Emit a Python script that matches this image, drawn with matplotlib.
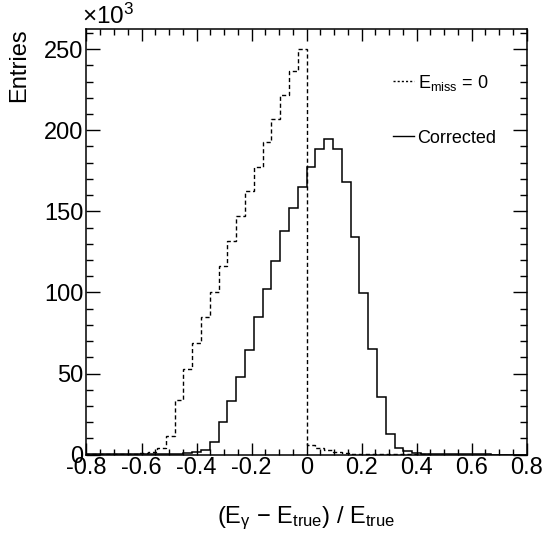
import numpy as np
import matplotlib
matplotlib.use("Agg")
import matplotlib.pyplot as plt
from matplotlib.ticker import MultipleLocator
from matplotlib.lines import Line2D

plt.rcParams['font.family'] = ['Liberation Sans', 'DejaVu Sans']
plt.rcParams['mathtext.fontset'] = 'custom'
plt.rcParams['mathtext.rm'] = 'Liberation Sans'
plt.rcParams['mathtext.it'] = 'Liberation Sans'

# 50 bins from -0.8 to 0.8, counts in units of 10^3
bin_edges = np.linspace(-0.8, 0.8, 51)

emiss0_k = [0.1, 0.1, 0.2, 0.2, 0.3, 0.5, 0.8, 1.6, 3.8, 11.8,
            33.6, 52.6, 68.6, 85.0, 100.5, 116.3, 131.7, 147.2, 162.6, 177.3,
            192.7, 207.0, 221.7, 236.6, 250.0, 5.9, 3.8, 2.8, 1.7, 1.0,
            0.6, 0.4, 0.3, 0.2, 0.2, 0.1, 0.1, 0.1, 0.1, 0.0,
            0.0, 0.0, 0.0, 0.0, 0.0, 0.0, 0.0, 0.0, 0.0, 0.0]

corrected_k = [0.1, 0.1, 0.1, 0.1, 0.2, 0.2, 0.3, 0.3, 0.4, 0.5,
               0.6, 0.8, 1.4, 2.6, 8.1, 19.9, 33.2, 47.8, 64.3, 84.6,
               102.1, 119.4, 138.1, 151.9, 164.9, 177.2, 188.7, 194.7, 188.7, 168.1,
               134.4, 99.5, 65.3, 35.5, 12.8, 3.8, 2.2, 1.2, 0.7, 0.5,
               0.3, 0.2, 0.2, 0.1, 0.1, 0.1, 0.0, 0.0, 0.0, 0.0]

fig = plt.figure(figsize=(5.44, 5.33), dpi=100)
ax = fig.add_axes([0.159, 0.147, 0.809, 0.799])

ax.stairs(emiss0_k, bin_edges, color='black', lw=1.0, linestyle=(0, (3, 2)))
ax.stairs(corrected_k, bin_edges, color='black', lw=1.1)

ax.set_xlim(-0.8, 0.8)
ax.set_ylim(0, 262.5)

ax.xaxis.set_major_locator(MultipleLocator(0.2))
ax.xaxis.set_minor_locator(MultipleLocator(0.05))
ax.yaxis.set_major_locator(MultipleLocator(50))
ax.yaxis.set_minor_locator(MultipleLocator(10))
ax.set_xticklabels([f'{v:g}' for v in ax.get_xticks()])

ax.tick_params(axis='both', which='both', direction='in', top=True, right=True,
               labelsize=17, width=1.0)
ax.tick_params(axis='x', which='major', length=8.8, pad=2)
ax.tick_params(axis='x', which='minor', length=4.4)
ax.tick_params(axis='y', which='major', length=9.8, pad=2)
ax.tick_params(axis='y', which='minor', length=4.9)
for sp in ax.spines.values():
    sp.set_linewidth(1.1)

ax.set_xlabel(r'(E$_{\mathrm{γ}}$ − E$_{\mathrm{true}}$) / E$_{\mathrm{true}}$', fontsize=17)
ax.xaxis.set_label_coords(0.5, -0.118)
ax.set_ylabel('Entries', fontsize=17, loc='top')
ax.yaxis.set_label_coords(-0.128, 1.0)

ax.text(-0.01, 1.0, r'×10$^{3}$', transform=ax.transAxes, ha='left', va='bottom',
        fontsize=17.5)

handles = [Line2D([], [], color='black', lw=1.0, linestyle=(0, (1.5, 1.5))),
           Line2D([], [], color='black', lw=1.0)]
labels = [r'E$_{\mathrm{miss}}$ = 0', 'Corrected']
ax.legend(handles, labels, loc='upper left', bbox_to_anchor=(0.66, 0.935),
          frameon=False, fontsize=13, handlelength=1.15, handletextpad=0.2,
          labelspacing=2.05)

fig.savefig('out.png', dpi=100)
